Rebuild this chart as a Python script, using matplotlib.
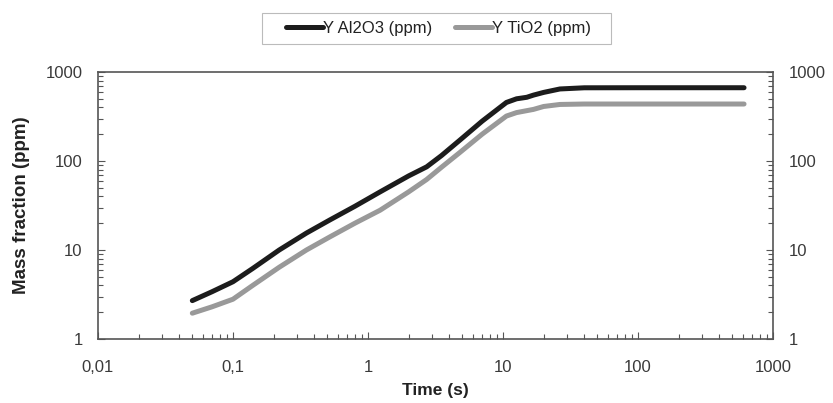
import matplotlib

matplotlib.use("Agg")
import matplotlib.pyplot as plt
from matplotlib.patches import Rectangle
from matplotlib.ticker import FixedLocator, FuncFormatter, LogLocator, NullFormatter

plt.rcParams["font.family"] = ["Liberation Sans", "DejaVu Sans"]

# values
time_s = [0.05, 0.07, 0.1, 0.14, 0.22, 0.35, 0.52, 0.8, 1.23, 2.0, 2.72,
          3.5, 4.8, 7.0, 10.6, 12.6, 15.0, 16.8, 20.0, 26.4, 40.0, 100.0, 610.0]
y_al2o3 = [2.7, 3.4, 4.4, 6.2, 10.0, 15.5, 21.7, 31.0, 45.0, 68.0, 86.0,
           115.0, 172.0, 280.0, 455.0, 500.0, 520.0, 550.0, 590.0, 645.0, 665.0, 666.0, 666.0]
y_tio2 = [1.95, 2.3, 2.8, 4.0, 6.4, 10.0, 14.0, 20.0, 28.0, 45.0, 62.0,
          85.0, 125.0, 200.0, 320.0, 350.0, 368.0, 380.0, 410.0, 432.0, 437.0, 437.0, 437.0]

x_ticks = [0.01, 0.1, 1, 10, 100, 1000]
x_labels = ["0,01", "0,1", "1", "10", "100", "1000"]
y_ticks = [1, 10, 100, 1000]

fig = plt.figure(figsize=(8.33, 4.03), dpi=100)
ax = fig.add_axes([0.1176, 0.1588, 0.8104, 0.6625])

ax.plot(time_s, y_al2o3, color="#1c1c1c", lw=3.6, solid_capstyle="round", label="Y Al2O3 (ppm)")
ax.plot(time_s, y_tio2, color="#999999", lw=3.6, solid_capstyle="round", label="Y TiO2 (ppm)")

ax.set_xscale("log")
ax.set_yscale("log")
ax.set_xlim(0.01, 1000)
ax.set_ylim(1, 1000)

ax.xaxis.set_major_locator(FixedLocator(x_ticks))
ax.xaxis.set_major_formatter(FuncFormatter(lambda v, p: x_labels[x_ticks.index(v)] if v in x_ticks else ""))
ax.xaxis.set_minor_locator(LogLocator(base=10, subs=range(2, 10)))
ax.xaxis.set_minor_formatter(NullFormatter())
ax.yaxis.set_major_locator(FixedLocator(y_ticks))
ax.yaxis.set_major_formatter(FuncFormatter(lambda v, p: f"{v:g}"))
ax.yaxis.set_minor_locator(LogLocator(base=10, subs=range(2, 10)))
ax.yaxis.set_minor_formatter(NullFormatter())

ax.tick_params(which="both", direction="in", right=True, labelright=True,
               colors="#555555", labelcolor="#3a3a3a", labelsize=12, width=0.8)
ax.tick_params(which="major", length=5)
ax.tick_params(axis="y", which="major", pad=11)
ax.tick_params(axis="x", which="major", pad=15)
ax.tick_params(which="minor", length=3.5)

for s in ax.spines.values():
    s.set_color("#555555")
    s.set_linewidth(1.2)

ax.set_xlabel("Time (s)", fontsize=12.5, fontweight="bold", color="#222222", labelpad=6)
ax.set_ylabel("Mass fraction (ppm)", fontsize=13.5, fontweight="bold", color="#222222", labelpad=11)

leg = fig.legend(loc="center", bbox_to_anchor=(0.5264, 0.929), ncol=2, frameon=False,
                 fontsize=12, handlelength=2.2, handletextpad=0.0, columnspacing=1.4)
for t in leg.get_texts():
    t.set_color("#222222")
fig.patches.append(Rectangle((0.3145, 0.890), 0.419, 0.0784, transform=fig.transFigure,
                             fill=False, edgecolor="#bbbbbb", linewidth=0.8))

fig.savefig("out.png", dpi=100)
